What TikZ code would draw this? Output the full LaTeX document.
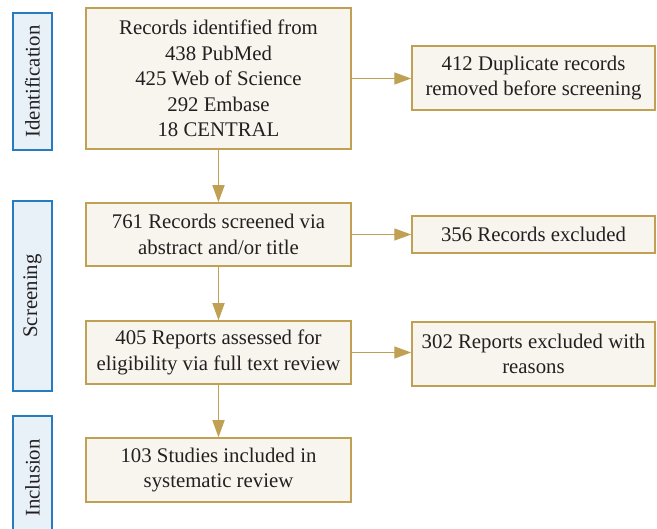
\documentclass[tikz,border=0pt]{standalone}
\usepackage{fontspec}
\setmainfont{Liberation Serif}
\usetikzlibrary{arrows.meta}
\definecolor{boxgold}{RGB}{192,160,82}
\definecolor{boxfill}{RGB}{248,245,238}
\definecolor{barblue}{RGB}{38,124,190}
\definecolor{barfill}{RGB}{232,240,248}
\definecolor{inktext}{RGB}{35,31,32}
\tikzset{
  stagebox/.style={draw=boxgold, fill=boxfill, line width=1.5pt, inner sep=0pt,
    align=center, text=inktext, font=\fontsize{20.8}{25.5}\selectfont},
  phasebar/.style={draw=barblue, fill=barfill, line width=1.4pt, inner sep=0pt,
    minimum width=39pt},
  phaselabel/.style={rotate=90, text=inktext, font=\fontsize{20.8}{25.5}\selectfont},
  flow/.style={draw=boxgold, line width=1.4pt, -{Triangle[length=17pt,width=12pt]}}
}
\begin{document}
\begin{tikzpicture}[x=1pt, y=-1pt]
    \useasboundingbox (0,0) rectangle (657,529);
    % phase bars on the left
    \node[phasebar, minimum height=137pt] (ident) at (32.5, 81.5) {};
    \node[phaselabel] at (ident) {Identification};
    \node[phasebar, minimum height=190pt] (screen) at (32.5, 296) {};
    \node[phaselabel] at (screen) {Screening};
    \node[phasebar, minimum height=124pt] (incl) at (32.5, 478) {};
    \node[phaselabel] at (incl) {Inclusion};

    % main column
    \node[stagebox, minimum width=265pt, minimum height=141pt] (found) at (218.5, 78.5)
        {Records identified from\\438 PubMed\\425 Web of Science\\292 Embase\\18 CENTRAL};
    \node[stagebox, minimum width=265pt, minimum height=63pt] (screened) at (218.5, 234.5)
        {761 Records screened via\\abstract and/or title};
    \node[stagebox, minimum width=265pt, minimum height=63pt] (assessed) at (218.5, 352.5)
        {405 Reports assessed for\\eligibility via full text review};
    \node[stagebox, minimum width=265pt, minimum height=64pt] (included) at (218.5, 470)
        {103 Studies included in\\systematic review};

    % exclusions column
    \node[stagebox, minimum width=243pt, minimum height=64pt] (dupl) at (533.5, 78)
        {412 Duplicate records\\removed before screening};
    \node[stagebox, minimum width=243pt, minimum height=37pt] (recex) at (533.5, 234.5)
        {356 Records excluded};
    \node[stagebox, minimum width=243pt, minimum height=64pt] (repex) at (533.5, 354)
        {302 Reports excluded with\\reasons};

    % arrows
    \draw[flow] (found) -- (screened);
    \draw[flow] (screened) -- (assessed);
    \draw[flow] (assessed) -- (included);
    \draw[flow] (found.east) -- (found.east -| dupl.west);
    \draw[flow] (screened.east) -- (screened.east -| recex.west);
    \draw[flow] (assessed.east) -- (assessed.east -| repex.west);
\end{tikzpicture}
\end{document}
